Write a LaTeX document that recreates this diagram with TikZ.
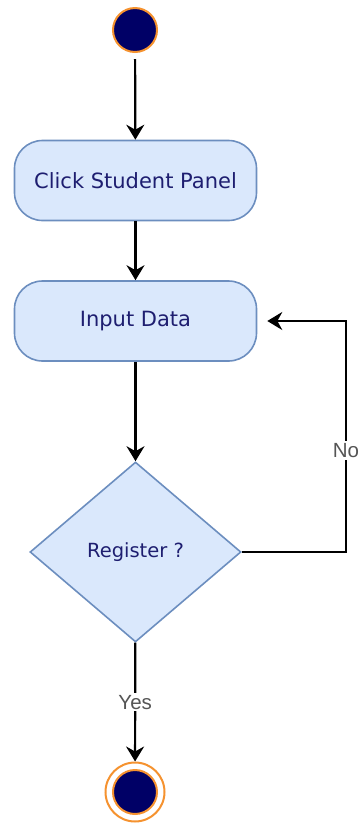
\documentclass[tikz,border=0pt]{standalone}
\usepackage{fontspec}
\setmainfont{DejaVu Sans}
\newfontfamily\labelfont{Liberation Sans}
\usetikzlibrary{shapes.geometric, arrows.meta, positioning}
\definecolor{boxfill}{HTML}{DAE8FC}
\definecolor{boxline}{HTML}{6C8EBF}
\definecolor{navy}{HTML}{000066}
\definecolor{navytext}{HTML}{1E1E70}
\definecolor{ring}{HTML}{F5922F}
\definecolor{labgray}{HTML}{555555}

\begin{document}
\begin{tikzpicture}[x=1pt, y=-1pt,
	act/.style={draw=boxline, fill=boxfill, line width=1.6pt, rectangle,
	rounded corners=28pt, minimum width=242pt, minimum height=80pt,
	text=navytext, font=\fontsize{21}{25}\selectfont},
	dec/.style={draw=boxline, fill=boxfill, line width=1.6pt, diamond,
	inner sep=0pt, minimum width=211pt, minimum height=180pt,
	text=navytext, font=\fontsize{19.5}{23}\selectfont},
	dot/.style={circle, fill=navy, draw=ring, line width=2pt, minimum size=44pt, inner sep=0pt},
	lab/.style={fill=white, text=labgray, inner sep=2pt, font=\labelfont\fontsize{20.5}{24}\selectfont},
	flow/.style={line width=2.2pt, -{Stealth[length=15pt, width=18pt, inset=5pt]}}]
\useasboundingbox (0,0) rectangle (362,823);
\node [dot] (start) at (135,30) {};
\node [act] (click) at (135.5,180.5) {Click Student Panel};
\node [act] (input) at (135.5,321) {Input Data};
\node [dec] (reg) at (135.5,552) {Register ?};
\node [circle, draw=ring, line width=2pt, minimum size=59pt] (stop) at (135,792) {};
\node [dot] (stopdot) at (stop) {};
\coordinate (turn) at (346,321);
\draw [flow, shorten <=6pt] (start) -- (click);
\draw [flow] (click) -- (input);
\draw [flow] (input) -- (reg);
\draw [flow] (reg) -- node [lab] {Yes} (stop);
\draw [flow, shorten >=10pt] (reg.east) -| node [lab, pos=0.72] {No} (turn) -- (input.east);
\end{tikzpicture}
\end{document}
